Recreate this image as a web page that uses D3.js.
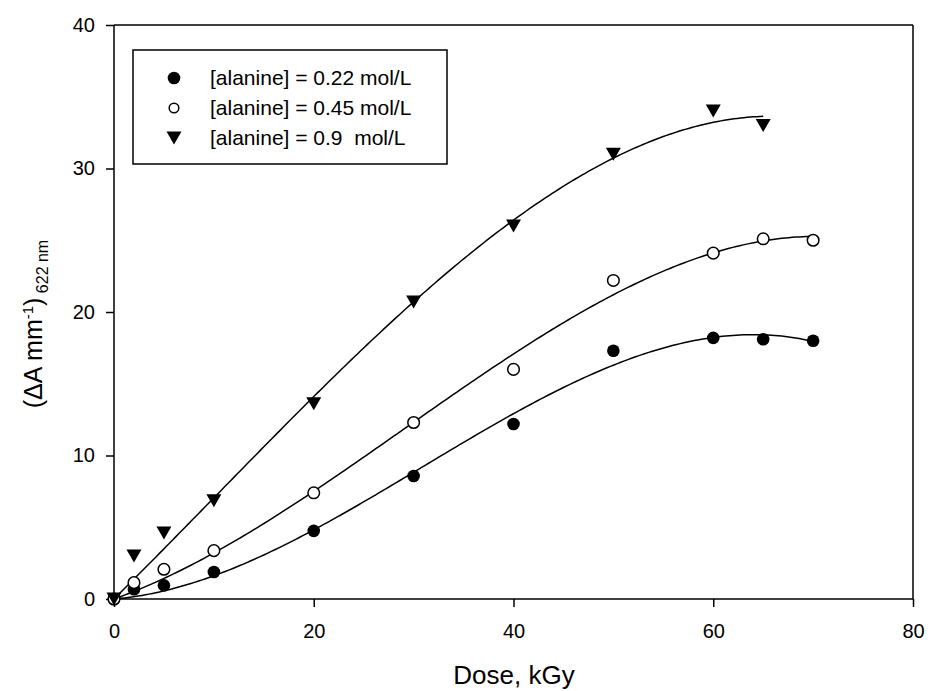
<!DOCTYPE html>
<html>
<head>
<meta charset="utf-8">
<script src="https://cdn.jsdelivr.net/npm/d3@7"></script>
<style>
  html, body { margin: 0; padding: 0; background: #fff; }
  svg { display: block; font-family: "Liberation Sans", Arial, sans-serif; }
</style>
</head>
<body>
<svg id="chart" width="930" height="691"></svg>
<script>
// ---- data ----
const doseA = [0, 2, 5, 10, 20, 30, 40, 50, 60, 65, 70];
const valA  = [0, 0.68, 0.95, 1.88, 4.75, 8.57, 12.2, 17.3, 18.2, 18.1, 18.0];
const doseB = [0, 2, 5, 10, 20, 30, 40, 50, 60, 65, 70];
const valB  = [0, 1.14, 2.07, 3.37, 7.4, 12.3, 16.0, 22.2, 24.1, 25.1, 25.0];
const doseC = [0, 2, 5, 10, 20, 30, 40, 50, 60, 65];
const valC  = [0, 3.0, 4.6, 6.85, 13.6, 20.7, 26.0, 31.0, 34.0, 33.0];
const seriesLabels = ["[alanine] = 0.22 mol/L", "[alanine] = 0.45 mol/L", "[alanine] = 0.9\u00a0\u00a0mol/L"];
const xTicks = [0, 20, 40, 60, 80];
const yTicks = [0, 10, 20, 30, 40];

// ---- layout ----
const svg = d3.select("#chart");
const x = d3.scaleLinear().domain([0, 80]).range([114, 913]);
const y = d3.scaleLinear().domain([0, 40]).range([599, 25]);

// cubic least-squares fit through origin: y = a x + b x^2 + c x^3
function fitCubic(xs, ys) {
  const n = 3;
  const A = [[0,0,0],[0,0,0],[0,0,0]], B = [0,0,0];
  xs.forEach((xv, i) => {
    const f = [xv, xv*xv, xv*xv*xv];
    for (let r = 0; r < n; r++) {
      B[r] += f[r] * ys[i];
      for (let c = 0; c < n; c++) A[r][c] += f[r] * f[c];
    }
  });
  for (let i = 0; i < n; i++) {
    let p = i;
    for (let k = i + 1; k < n; k++) if (Math.abs(A[k][i]) > Math.abs(A[p][i])) p = k;
    [A[i], A[p]] = [A[p], A[i]]; [B[i], B[p]] = [B[p], B[i]];
    for (let k = i + 1; k < n; k++) {
      const f = A[k][i] / A[i][i];
      for (let c = i; c < n; c++) A[k][c] -= f * A[i][c];
      B[k] -= f * B[i];
    }
  }
  const s = [0,0,0];
  for (let i = n - 1; i >= 0; i--) {
    let t = B[i];
    for (let c = i + 1; c < n; c++) t -= A[i][c] * s[c];
    s[i] = t / A[i][i];
  }
  return xv => s[0]*xv + s[1]*xv*xv + s[2]*xv*xv*xv;
}

const series = [
  { xs: doseA, ys: valA, kind: "filled" },
  { xs: doseB, ys: valB, kind: "open" },
  { xs: doseC, ys: valC, kind: "tri" }
];

// fit curves
const line = d3.line().x(d => x(d[0])).y(d => y(d[1])).curve(d3.curveLinear);
series.forEach(s => {
  const f = fitCubic(s.xs, s.ys);
  const xmax = d3.max(s.xs);
  const pts = d3.range(0, 201).map(i => { const xv = xmax * i / 200; return [xv, f(xv)]; });
  svg.append("path").attr("d", line(pts)).attr("fill", "none")
     .attr("stroke", "#000").attr("stroke-width", 1.5);
});

// axes
const fs = 20;
const xAxis = d3.axisBottom(x).tickValues(xTicks).tickSize(8).tickPadding(17).tickFormat(d3.format("d"));
const yAxis = d3.axisLeft(y).tickValues(yTicks).tickSize(8).tickPadding(11).tickFormat(d3.format("d"));
const gx = svg.append("g").attr("transform", "translate(0,599)").call(xAxis);
const gy = svg.append("g").attr("transform", "translate(114,0)").call(yAxis);
[gx, gy].forEach(g => {
  g.select(".domain").attr("stroke", "#000").attr("stroke-width", 1.5);
  g.selectAll(".tick line").attr("stroke", "#000").attr("stroke-width", 1.5);
  g.selectAll(".tick text").attr("fill", "#000").style("font-size", fs + "px")
   .style("font-family", "Liberation Sans, Arial, sans-serif");
});
gx.select(".domain").attr("d", "M114,0H913");
gy.select(".domain").attr("d", "M0,599V25");
// frame top and right
svg.append("line").attr("x1", x(0)).attr("x2", x(80)).attr("y1", y(40)).attr("y2", y(40))
   .attr("stroke", "#000").attr("stroke-width", 1.5);
svg.append("line").attr("x1", x(80)).attr("x2", x(80)).attr("y1", y(40)).attr("y2", y(0))
   .attr("stroke", "#000").attr("stroke-width", 1.5);

// markers
function drawMarker(g, kind, cx, cy, legend) {
  if (kind === "filled") {
    g.append("circle").attr("cx", cx).attr("cy", cy).attr("r", 6.3).attr("fill", "#000");
  } else if (kind === "open") {
    g.append("circle").attr("cx", cx).attr("cy", cy).attr("r", legend ? 4.8 : 5.8)
     .attr("fill", "#fff").attr("stroke", "#000").attr("stroke-width", 1.5);
  } else {
    const w = 7.5, h = 13;
    g.append("path").attr("d", `M${cx - w},${cy - h/2}L${cx + w},${cy - h/2}L${cx},${cy + h/2}Z`)
     .attr("fill", "#000");
  }
}
const gm = svg.append("g");
series.forEach(s => {
  s.xs.forEach((xv, i) => drawMarker(gm, s.kind, x(xv), y(s.ys[i]), false));
});

// legend
const lg = svg.append("g");
lg.append("rect").attr("x", 133).attr("y", 50).attr("width", 314).attr("height", 114)
  .attr("fill", "#fff").attr("stroke", "#000").attr("stroke-width", 1.5);
series.forEach((s, i) => {
  const cy = 78 + i * 30;
  drawMarker(lg, s.kind, 174, cy, true);
  lg.append("text").attr("x", 210).attr("y", cy).attr("dy", "0.35em")
    .style("font-size", "21px").attr("fill", "#000").text(seriesLabels[i]);
});

// axis titles
svg.append("text").attr("x", 514).attr("y", 684).attr("text-anchor", "middle")
   .style("font-size", "26px").attr("fill", "#000").text("Dose, kGy");

const yt = svg.append("text").attr("transform", "translate(42,324) rotate(-90)")
   .attr("text-anchor", "middle").style("font-size", "25px").attr("fill", "#000");
yt.append("tspan").text("(\u0394A mm");
yt.append("tspan").attr("dy", "-9").style("font-size", "15px").text("-1");
yt.append("tspan").attr("dy", "9").text(")");
yt.append("tspan").attr("dy", "6").style("font-size", "16px").text(" 622 nm");
</script>
</body>
</html>
